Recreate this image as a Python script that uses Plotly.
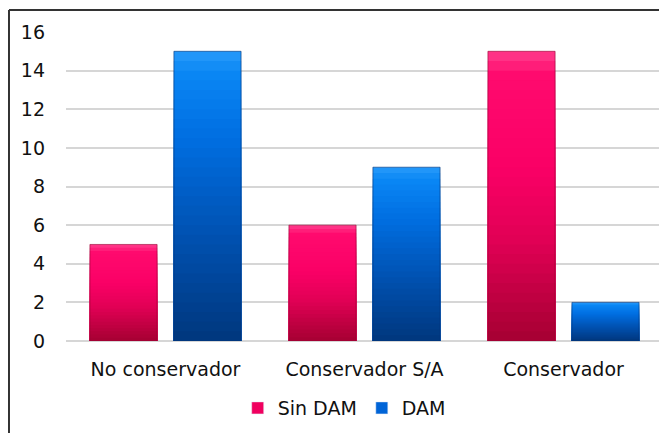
import plotly.graph_objects as go

categories = ["No conservador", "Conservador S/A", "Conservador"]
sin_dam = [5, 6, 15]
dam = [15, 9, 2]
y_ticks = [0, 2, 4, 6, 8, 10, 12, 14, 16]
series_names = ["Sin DAM", "DAM"]

# gradient stops (bottom -> top)
pink_stops = [(0.0, (165, 0, 50)), (0.35, (225, 0, 85)), (0.6, (250, 0, 102)), (0.92, (255, 10, 110)), (1.0, (255, 60, 140))]
blue_stops = [(0.0, (0, 55, 125)), (0.35, (0, 80, 175)), (0.7, (0, 110, 225)), (0.93, (10, 135, 245)), (1.0, (40, 155, 250))]


def interp(stops, t):
    for (t0, c0), (t1, c1) in zip(stops, stops[1:]):
        if t0 <= t <= t1:
            f = (t - t0) / (t1 - t0) if t1 > t0 else 0
            return "rgb(%d,%d,%d)" % tuple(round(a + (b - a) * f) for a, b in zip(c0, c1))
    return "rgb(%d,%d,%d)" % stops[-1][1]


fig = go.Figure()
N = 30
for name, vals, stops, grp, legcol, edge in [
    (series_names[0], sin_dam, pink_stops, "a", "rgb(240,0,95)", "rgba(150,0,50,0.6)"),
    (series_names[1], dam, blue_stops, "b", "rgb(0,100,215)", "rgba(0,50,120,0.6)"),
]:
    # overlapping bars from the full height down: each shorter one is darker
    for k in range(N):
        frac = (N - k) / N
        t = frac - 0.5 / N
        fig.add_trace(go.Bar(
            x=categories, y=[v * frac for v in vals],
            offsetgroup=grp, marker=dict(color=interp(stops, t), line=dict(width=0)),
            showlegend=False, hoverinfo="skip"))
    fig.add_trace(go.Bar(
        x=categories, y=vals, offsetgroup=grp, name=name,
        marker=dict(color="rgba(0,0,0,0)", line=dict(color=edge, width=1)),
        showlegend=False))
    fig.add_trace(go.Bar(
        x=categories, y=[None] * len(categories), offsetgroup=grp, name=name,
        marker=dict(color=legcol), showlegend=True))

font = "DejaVu Sans"
fig.update_layout(
    width=659, height=425,
    margin=dict(l=58, r=4, t=24, b=92),
    paper_bgcolor="white", plot_bgcolor="white",
    barmode="group", bargap=0.156, bargroupgap=0.2,
    font=dict(family=font, size=19, color="#111"),
    showlegend=True,
    legend=dict(orientation="h", x=0.466, xanchor="center", y=-0.217, yanchor="middle",
                font=dict(family=font, size=19, color="#111"), itemwidth=30,
                traceorder="normal"),
    xaxis=dict(showgrid=False, showline=False, ticks="", tickfont=dict(size=19),
               ticklabelstandoff=15),
    yaxis=dict(range=[0, 16], tickvals=y_ticks, showgrid=True, gridcolor="#d6d6d6",
               gridwidth=1.5, zeroline=True, zerolinecolor="#d6d6d6", zerolinewidth=1.5,
               showline=False, ticks="", ticklabelstandoff=20, tickfont=dict(size=19)),
    shapes=[
        dict(type="line", xref="paper", yref="paper", x0=-0.0955, x1=-0.0955, y0=1.0712, y1=-0.35,
             line=dict(color="#333", width=2)),
        dict(type="line", xref="paper", yref="paper", x0=-0.0955, x1=1.05, y0=1.0712, y1=1.0712,
             line=dict(color="#333", width=2)),
    ],
)
fig.write_html("out.html")
